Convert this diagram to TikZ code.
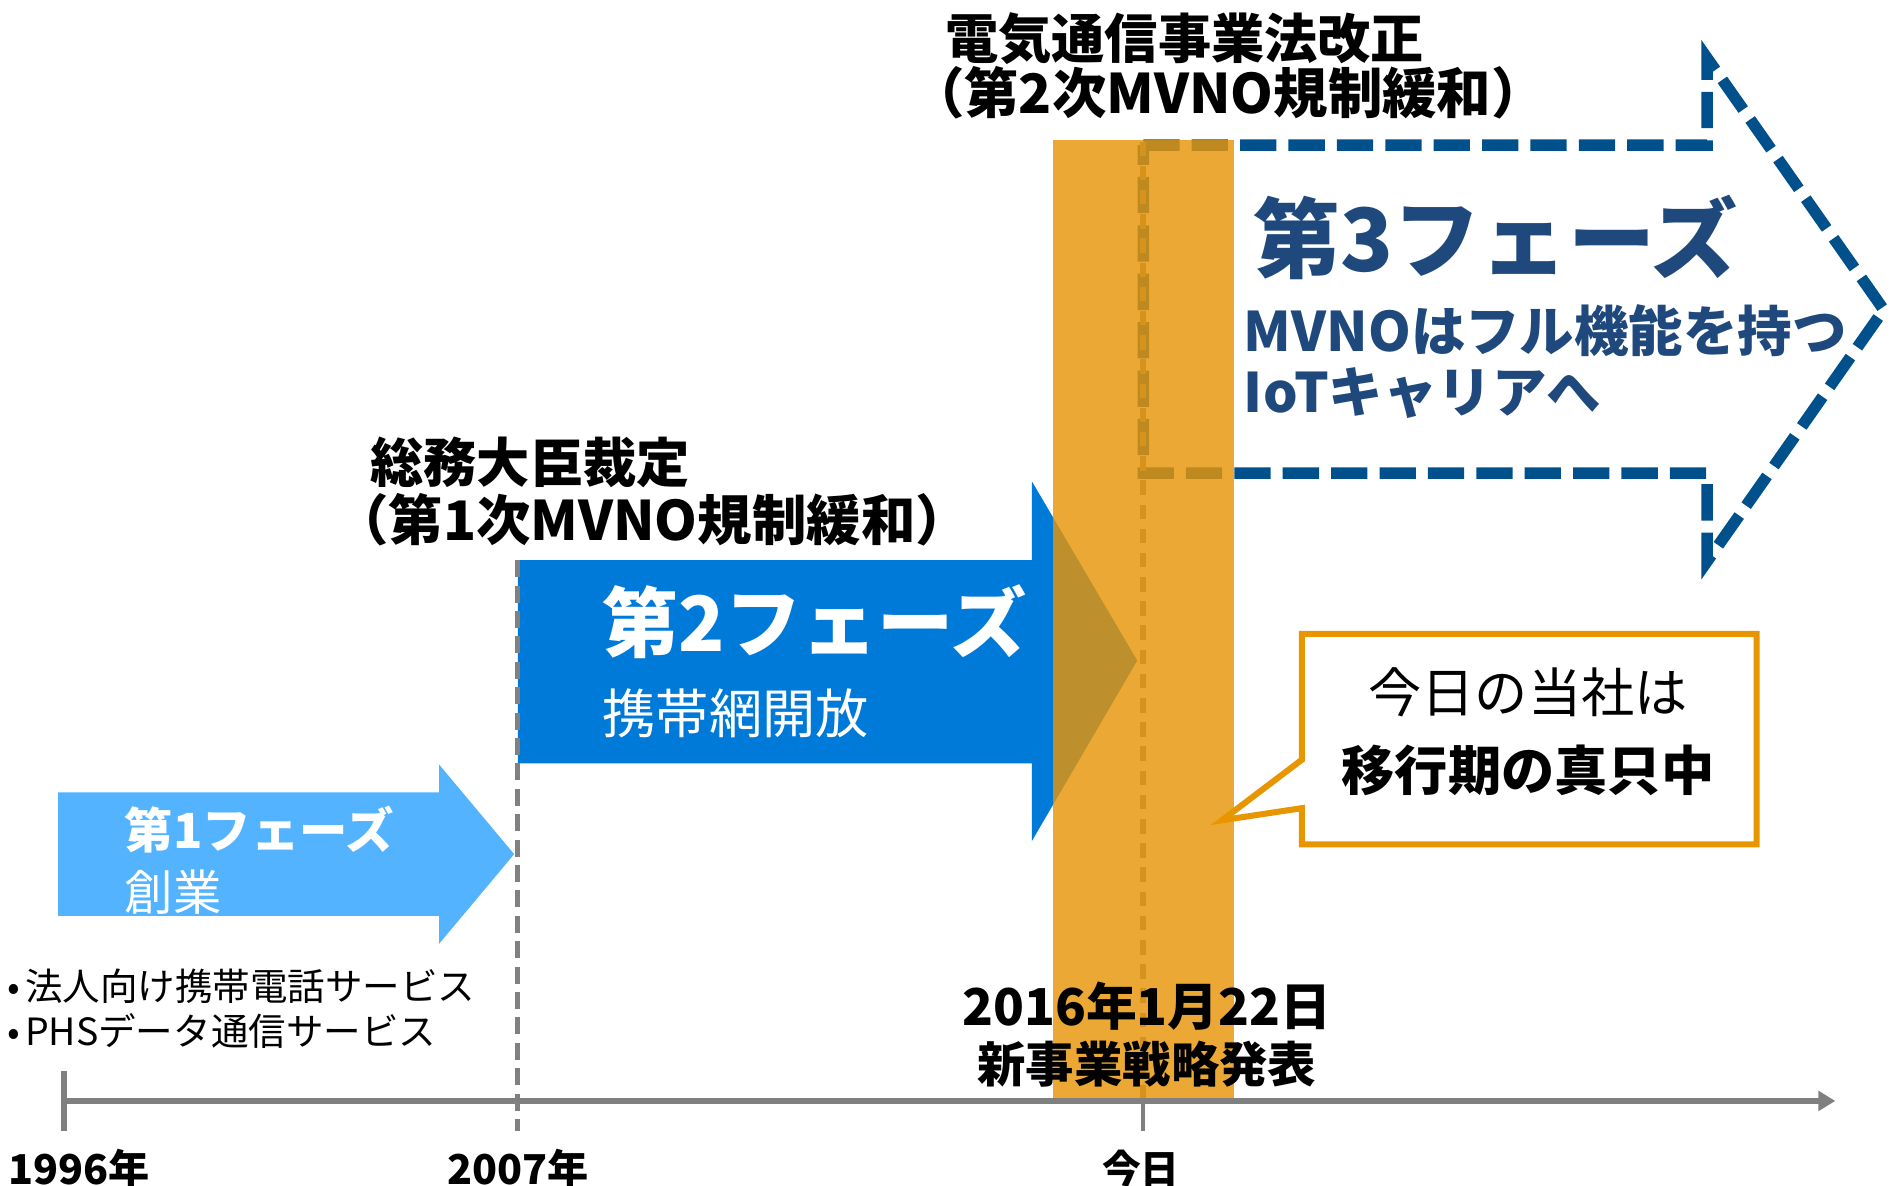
\documentclass[tikz,border=0pt]{standalone}
\usepackage{fontspec}
\setmainfont{Noto Sans CJK JP}
\usetikzlibrary{arrows.meta}
\definecolor{pone}{RGB}{84,179,255}
\definecolor{ptwo}{RGB}{0,122,217}
\definecolor{pthree}{RGB}{0,80,140}
\definecolor{pthreetxt}{RGB}{31,73,125}
\definecolor{bandcol}{RGB}{232,150,8}
\definecolor{calloutcol}{RGB}{232,150,0}
\definecolor{axisgray}{RGB}{128,128,128}
\newcommand\fsz[1]{\fontsize{#1}{#1}\selectfont}
\begin{document}
\begin{tikzpicture}[x=1pt,y=-1pt,
  txt/.style={inner sep=0pt, anchor=west},
  ctxt/.style={inner sep=0pt, anchor=center},
  axisline/.style={draw=axisgray, line width=4.5pt},
  dashline/.style={draw=axisgray, line width=4pt, dash pattern=on 14pt off 7pt},
  todayline/.style={draw=axisgray, line width=5pt, dash pattern=on 12pt off 8pt},
  phasethree/.style={draw=pthree, line width=9.5pt, dash pattern=on 30pt off 10pt, line join=miter},
  bandstyle/.style={fill=bandcol, opacity=0.82},
  calloutbox/.style={draw=calloutcol, fill=white, line width=5pt, line join=miter, miter limit=20}]
\path[use as bounding box, fill=white] (0,0) rectangle (1568,980);

% phase arrows
\fill[pone] (48,655) -- (363,655) -- (363,632) -- (425,706) -- (363,780) -- (363,757) -- (48,757) -- cycle;
\fill[ptwo] (428,463) -- (853,463) -- (853,398) -- (940,546) -- (853,695) -- (853,631) -- (428,631) -- cycle;
\draw[phasethree] (945,120) -- (1411,120) -- (1411,48) -- (1557,256) -- (1411,464) -- (1411,391) -- (945,391) -- cycle;

% time markers
\coordinate (y07top) at (428,463);
\coordinate (y07bot) at (428,935);
\draw[dashline] (y07top) -- (y07bot);
\coordinate (tdtop) at (945,117);
\coordinate (tdaxis) at (945,910);
\coordinate (tdbot) at (945,935);
\draw[todayline] (tdtop) -- (tdaxis);

% orange band
\fill[bandstyle] (870,116) rectangle (1020,908);

% axis
\coordinate (axL) at (51,910);
\coordinate (axR) at (1517,910);
\draw[axisline, -{Triangle[length=14pt,width=16pt]}] (axL) -- (axR);
\coordinate (t1a) at (53,885);
\coordinate (t1b) at (53,935);
\draw[axisline] (t1a) -- (t1b);
\draw[draw=axisgray, line width=3pt] (tdaxis) -- (tdbot);

% callout
\draw[calloutbox] (1076,524) -- (1452,524) -- (1452,698) -- (1076,698) -- (1076,668) -- (1010,678) -- (1076,628) -- cycle;
\node[ctxt, font=\fsz{44}] (c1) at (1263,572) {今日の当社は};
\node[ctxt, font=\bfseries\fsz{44}] (c2) at (1263,637) {移行期の真只中};

% texts
\node[txt, font=\bfseries\fsz{44}] (ev3a) at (781,32) {電気通信事業法改正};
\node[txt, font=\bfseries\fsz{45}] (ev3b) at (752,77) {（第2次MVNO規制緩和）};
\node[txt, font=\bfseries\fsz{44}] (ev2a) at (306,382) {総務大臣裁定};
\node[txt, font=\bfseries\fsz{45}] (ev2b) at (276,430) {（第1次MVNO規制緩和）};

\node[txt, font=\bfseries\fsz{40}, text=white] (p1a) at (103,686) {第1フェーズ};
\node[txt, font=\fsz{40}, text=white] (p1b) at (103,737) {創業};
\node[txt, font=\bfseries\fsz{63}, text=white] (p2a) at (498,514) {第2フェーズ};
\node[txt, font=\fsz{44}, text=white] (p2b) at (498,590) {携帯網開放};
\node[txt, font=\bfseries\fsz{72}, text=pthreetxt] (p3a) at (1036,196) {第3フェーズ};
\node[txt, font=\bfseries\fsz{45}, text=pthreetxt] (p3b) at (1028,273) {MVNOはフル機能を持つ};
\node[txt, font=\bfseries\fsz{45}, text=pthreetxt] (p3c) at (1028,325) {IoTキャリアへ};

\node[txt, font=\fsz{31}] (b1) at (6,815) {•\hspace{4pt}法人向け携帯電話サービス};
\node[txt, font=\fsz{31}] (b2) at (6,852) {•\hspace{4pt}PHSデータ通信サービス};

\node[ctxt, font=\bfseries\fsz{42}] (d1) at (948,832) {2016年1月22日};
\node[ctxt, font=\bfseries\fsz{40}] (d2) at (948,880) {新事業戦略発表};

\node[txt, font=\bfseries\fsz{34}] (l1) at (7,966) {1996年};
\node[ctxt, font=\bfseries\fsz{34}] (l2) at (428,966) {2007年};
\node[ctxt, font=\bfseries\fsz{32}] (l3) at (943,966) {今日};
\end{tikzpicture}
\end{document}
